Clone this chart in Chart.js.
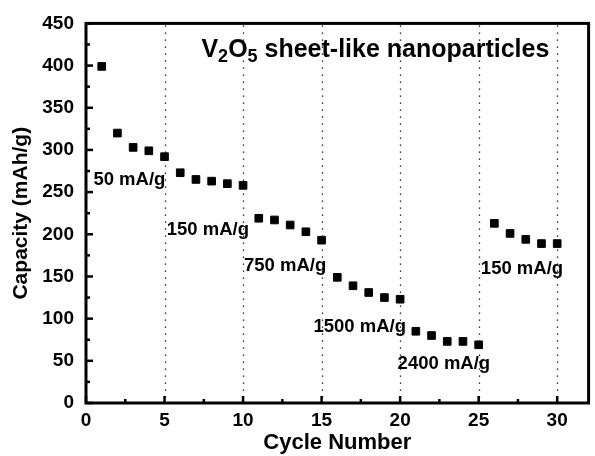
<!DOCTYPE html>
<html>
<head>
<meta charset="utf-8">
<script src="https://cdn.jsdelivr.net/npm/chart.js@4/dist/chart.umd.min.js"></script>
<style>
  html, body { margin: 0; padding: 0; background: #fff; }
  canvas { display: block; }
</style>
</head>
<body>
<canvas id="c" width="595" height="456"></canvas>
<script>
// ---- data ----
const cycles = [1, 2, 3, 4, 5, 6, 7, 8, 9, 10, 11, 12, 13, 14, 15, 16, 17, 18, 19, 20, 21, 22, 23, 24, 25, 26, 27, 28, 29, 30];
const capacity = [399, 320, 303, 299, 292, 273, 265, 263, 260, 258, 219, 217, 211, 203, 193, 149, 139, 131, 125, 123, 85, 80, 73, 73, 69, 213, 201, 194, 189, 189];
const xTickValues = [0, 5, 10, 15, 20, 25, 30];
const yTickValues = [0, 50, 100, 150, 200, 250, 300, 350, 400, 450];
const rateLabels = ['50 mA/g', '150 mA/g', '750 mA/g', '1500 mA/g', '2400 mA/g', '150 mA/g'];
const gridCycles = [5, 10, 15, 20, 25, 30];

const FONT = '"Liberation Sans", Arial, Helvetica, sans-serif';

// label anchors in data coordinates (left edge, vertical middle)
const labelAnchors = [[0.47, 264], [5.14, 205], [10.06, 162], [14.48, 90], [19.84, 46], [25.14, 159]];
const titleAnchor = [7.35, 420];

const overlay = {
  id: 'overlay',
  beforeDatasetsDraw(chart) {
    const { ctx, chartArea: a, scales: { x, y } } = chart;
    ctx.save();
    ctx.strokeStyle = '#000';
    // dotted vertical grid lines
    ctx.lineWidth = 1.3;
    ctx.setLineDash([1.4, 5.6]);
    gridCycles.forEach(v => {
      const px = Math.round(x.getPixelForValue(v)) + 0.5;
      ctx.beginPath();
      ctx.moveTo(px, a.top + 2);
      ctx.lineTo(px, a.bottom - 2);
      ctx.stroke();
    });
    ctx.setLineDash([]);
    // x ticks (inward)
    xTickValues.forEach(v => {
      const px = x.getPixelForValue(v);
      ctx.lineWidth = 2.5;
      ctx.beginPath(); ctx.moveTo(px, a.bottom); ctx.lineTo(px, a.bottom - 7); ctx.stroke();
      const m = v + 2.5;
      if (m < x.max) {
        const pm = x.getPixelForValue(m);
        ctx.beginPath(); ctx.moveTo(pm, a.bottom); ctx.lineTo(pm, a.bottom - 4); ctx.stroke();
      }
    });
    // y ticks (inward)
    yTickValues.forEach(v => {
      const py = y.getPixelForValue(v);
      ctx.lineWidth = 2.5;
      ctx.beginPath(); ctx.moveTo(a.left, py); ctx.lineTo(a.left + 7, py); ctx.stroke();
      const m = v + 25;
      if (m < y.max) {
        const pm = y.getPixelForValue(m);
        ctx.beginPath(); ctx.moveTo(a.left, pm); ctx.lineTo(a.left + 4, pm); ctx.stroke();
      }
    });
    ctx.restore();
  },
  afterDatasetsDraw(chart) {
    const { ctx, chartArea: a, scales: { x, y } } = chart;
    ctx.save();
    // frame
    ctx.strokeStyle = '#000';
    ctx.lineWidth = 3;
    ctx.strokeRect(a.left, a.top, a.right - a.left, a.bottom - a.top);
    // rate labels
    ctx.fillStyle = '#000';
    ctx.font = 'bold 18.5px ' + FONT;
    ctx.textAlign = 'left';
    ctx.textBaseline = 'middle';
    rateLabels.forEach((t, i) => {
      const [vx, vy] = labelAnchors[i];
      ctx.fillText(t, x.getPixelForValue(vx), y.getPixelForValue(vy));
    });
    // title with subscripts
    let tx = x.getPixelForValue(titleAnchor[0]);
    const ty = y.getPixelForValue(titleAnchor[1]);
    const big = 'bold 25px ' + FONT, small = 'bold 18px ' + FONT;
    ctx.textBaseline = 'alphabetic';
    const base = ty + 8;
    const parts = [['V', big, 0], ['2', small, 5], ['O', big, 0], ['5', small, 5], [' sheet-like nanoparticles', big, 0]];
    parts.forEach(([s, f, dy]) => {
      ctx.font = f;
      ctx.fillText(s, tx, base + dy);
      tx += ctx.measureText(s).width;
    });
    ctx.restore();
  }
};

new Chart(document.getElementById('c'), {
  type: 'scatter',
  data: {
    datasets: [{
      data: cycles.map((c, i) => ({ x: c, y: capacity[i] })),
      pointStyle: 'rect',
      pointRadius: 5.4,
      pointHoverRadius: 5.4,
      backgroundColor: '#000',
      borderColor: '#000',
      borderWidth: 1
    }]
  },
  options: {
    responsive: false,
    animation: false,
    events: [],
    layout: { padding: { top: 23, right: 4, left: 0, bottom: 0 } },
    plugins: { legend: { display: false }, tooltip: { enabled: false } },
    scales: {
      x: {
        type: 'linear', min: 0, max: 32,
        afterBuildTicks: s => { s.ticks = xTickValues.map(v => ({ value: v })); },
        afterFit: s => { s.height = 53; },
        grid: { display: false, drawTicks: false },
        border: { display: false },
        ticks: { color: '#000', font: { family: FONT, size: 19, weight: 'bold' }, padding: 6, maxRotation: 0, autoSkip: false },
        title: { display: true, text: 'Cycle Number', color: '#000', font: { family: FONT, size: 22, weight: 'bold' }, padding: { top: 0, bottom: 0 } }
      },
      y: {
        type: 'linear', min: 0, max: 450,
        afterBuildTicks: s => { s.ticks = yTickValues.map(v => ({ value: v })); },
        afterFit: s => { s.width = 86; },
        grid: { display: false, drawTicks: false },
        border: { display: false },
        ticks: { color: '#000', font: { family: FONT, size: 19, weight: 'bold' }, padding: 12, autoSkip: false },
        title: { display: true, text: 'Capacity (mAh/g)', color: '#000', font: { family: FONT, size: 21, weight: 'bold' }, padding: { top: 9, bottom: 0 } }
      }
    }
  },
  plugins: [overlay]
});
</script>
</body>
</html>
